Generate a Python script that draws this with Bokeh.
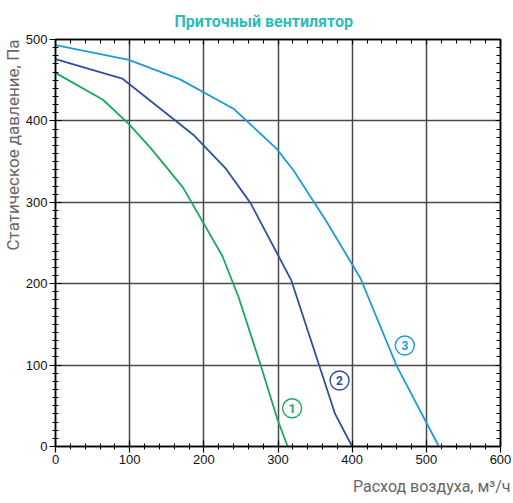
from bokeh.plotting import figure
from bokeh.models import (Range1d, LinearAxis, SingleIntervalTicker, Title,
                          ColumnDataSource, FixedTicker, CustomJSTickFormatter)
from bokeh.core.properties import value
from bokeh.embed import file_html
from bokeh.resources import INLINE

# ---- data ----
c1_x = [0, 64, 99, 129, 172, 225, 247, 277, 299, 313]
c1_y = [459, 426, 396, 366, 318, 234, 183, 99, 34, 0]

c2_x = [0, 90, 187, 230, 263, 318, 377, 400]
c2_y = [476, 452, 382, 341, 299, 204, 40, 0]

c3_x = [0, 99, 168, 240, 298, 321, 365, 411, 460, 517]
c3_y = [493, 475, 451, 415, 366, 339, 277, 207, 99, 0]

mark_names = ["1", "2", "3"]
mark_x = [319, 383, 471]
mark_y = [47, 81, 124]

title_text = "Приточный вентилятор"
x_label = "Расход воздуха, м³/ч"
y_label = "Статическое давление, Па"

C1 = "#1aa95c"
C2 = "#2f4f9f"
C3 = "#1f9bd7"
colors = [C1, C2, C3]

p = figure(width=513, height=503, output_backend="svg", toolbar_location=None,
           x_range=Range1d(0, 600), y_range=Range1d(0, 500),
           min_border_left=54, min_border_right=13, min_border_top=38,
           min_border_bottom=57, x_axis_location=None, y_axis_location=None)
p.outline_line_color = "black"
p.outline_line_width = 1.5
p.background_fill_color = "white"
p.border_fill_color = "white"

def make_axis(minor, show_labels):
    ax = LinearAxis(ticker=SingleIntervalTicker(interval=100, num_minor_ticks=minor))
    ax.axis_line_color = "black"
    ax.axis_line_width = 1.5
    ax.major_tick_line_color = "black"
    ax.minor_tick_line_color = "black"
    ax.major_tick_line_width = 1.2
    ax.minor_tick_line_width = 1
    ax.major_label_text_font = "Liberation Sans"
    ax.major_label_text_color = "#111111"
    if show_labels:
        ax.major_tick_in = 6
        ax.major_tick_out = 6
        ax.minor_tick_in = 3
        ax.minor_tick_out = 3
        ax.major_label_text_font_size = "13px"
        ax.major_label_standoff = 2
    else:
        ax.major_tick_in = 5
        ax.major_tick_out = 0
        ax.minor_tick_in = 4
        ax.minor_tick_out = 0
        ax.formatter = CustomJSTickFormatter(code="return ''")
        ax.major_label_text_font_size = "1px"
        ax.major_label_standoff = 0
    return ax

p.add_layout(make_axis(5, True), "below")
p.add_layout(make_axis(10, True), "left")
p.add_layout(make_axis(5, False), "above")
p.add_layout(make_axis(10, False), "right")

p.xgrid.ticker = FixedTicker(ticks=[100, 200, 300, 400, 500])
p.ygrid.ticker = FixedTicker(ticks=[100, 200, 300, 400])
for g in (p.xgrid, p.ygrid):
    g.grid_line_color = "#4a4a4a"
    g.grid_line_width = 1.5

p.line(c1_x, c1_y, line_color=C1, line_width=1.8)
p.line(c2_x, c2_y, line_color=C2, line_width=1.8)
p.line(c3_x, c3_y, line_color=C3, line_width=1.8)

src = ColumnDataSource(dict(x=mark_x, y=mark_y, t=mark_names, c=colors))
p.scatter("x", "y", source=src, marker="circle", size=19, fill_color="white",
          line_color="c", line_width=1.4)
p.text("x", "y", text="t", source=src, text_color="c", text_align="center",
       text_baseline="middle", text_font=value("Roboto"), text_font_style="bold",
       text_font_size="12px")

p.add_layout(Title(text=title_text, align="left", text_font="Roboto",
                   text_font_style="bold", text_font_size="16px",
                   text_color="#2bbdbd", standoff=18, offset=119), "above")
p.add_layout(Title(text=y_label, align="right", text_font="Roboto",
                   text_font_style="normal", text_font_size="17px",
                   text_color="#666666", standoff=0, offset=0), "left")
p.add_layout(Title(text=x_label, align="right", text_font="Roboto",
                   text_font_style="normal", text_font_size="16px",
                   text_color="#666666", standoff=16, offset=-10), "below")

open("out.html", "w").write(file_html(p, INLINE))
